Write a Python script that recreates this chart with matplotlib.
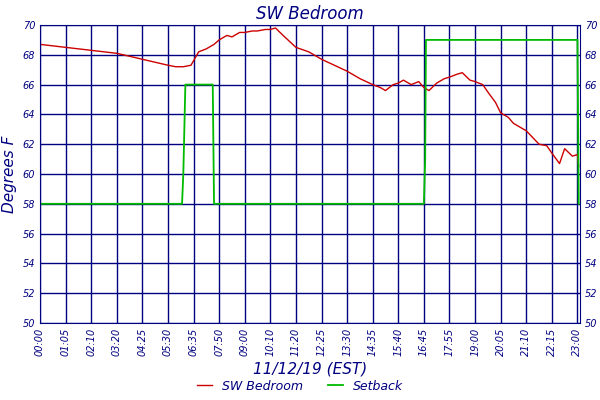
import matplotlib
matplotlib.use("Agg")
import matplotlib.pyplot as plt
import numpy as np

tick_labels = ["00:00","01:05","02:10","03:20","04:25","05:30","06:35","07:50","09:00","10:10",
               "11:20","12:25","13:30","14:35","15:40","16:45","17:55","19:00","20:05","21:10","22:15","23:00"]
temp_x = [0,0.5,1,1.5,2,2.5,3,3.5,4,4.5,5,5.3,5.6,5.9,6.0,6.2,6.5,6.8,7,7.3,7.5,7.8,8,8.3,8.5,8.8,9,9.2,9.5,
          10,10.5,11,11.5,12,12.5,13,13.3,13.5,13.8,14,14.2,14.5,14.8,15,15.2,15.5,15.8,16,16.3,16.5,16.8,17,
          17.3,17.5,17.8,18,18.3,18.5,19,19.5,19.8,20,20.3,20.5,20.8,21,21.05]
temp_y = [68.7,68.6,68.5,68.4,68.3,68.2,68.1,67.9,67.7,67.5,67.3,67.2,67.2,67.3,67.6,68.2,68.4,68.7,69.0,69.3,69.2,69.5,69.5,69.6,69.6,69.7,69.7,69.8,69.3,
          68.5,68.2,67.7,67.3,66.9,66.4,66.0,65.8,65.6,66.0,66.1,66.3,66.0,66.2,65.8,65.6,66.1,66.4,66.5,66.7,66.8,66.3,66.2,
          66.0,65.5,64.8,64.1,63.8,63.4,62.9,62.0,61.9,61.4,60.7,61.7,61.2,61.3,60.5]
set_x = [0,5.55,5.6,5.68,6.75,6.8,15.0,15.05,15.08,21.0,21.05]
set_y = [58,58,60,66,66,58,58,61,69,69,58]

navy = "#000080"
fig = plt.figure(figsize=(6,4), dpi=100)
ax = fig.add_axes([40/600, 1-323/400, 540/600, 298/400])
ax.plot(temp_x, temp_y, color="#cc0000", lw=1, label="SW Bedroom")
ax.plot(set_x, set_y, color="#00bb00", lw=1.3, label="Setback")
ax.set_xlim(0, 21.1)
ax.set_ylim(50, 70)
ax.set_xticks(range(len(tick_labels)))
ax.set_xticklabels(tick_labels, rotation=90, fontsize=7, color=navy, style="italic")
ax.set_yticks(range(50, 71, 2))
ax.tick_params(axis="y", labelsize=7, labelcolor=navy, length=0, labelright=True)
ax.tick_params(axis="x", length=0)
ax.grid(True, color=navy, lw=1)
for s in ax.spines.values():
    s.set_color(navy)
for lab in ax.get_yticklabels(which="both"):
    lab.set_style("italic")
ax.set_ylabel("Degrees F", color=navy, fontsize=11, style="italic")
ax.set_xlabel("11/12/19 (EST)", color=navy, fontsize=11, style="italic")
ax.set_title("SW Bedroom", color=navy, fontsize=12, style="italic", pad=4)
leg = fig.legend(loc="lower center", ncol=2, frameon=False, fontsize=9, bbox_to_anchor=(0.5, -0.01), handlelength=1.2)
for t in leg.get_texts():
    t.set_color(navy); t.set_style("italic")
fig.savefig("out.png", dpi=100)
